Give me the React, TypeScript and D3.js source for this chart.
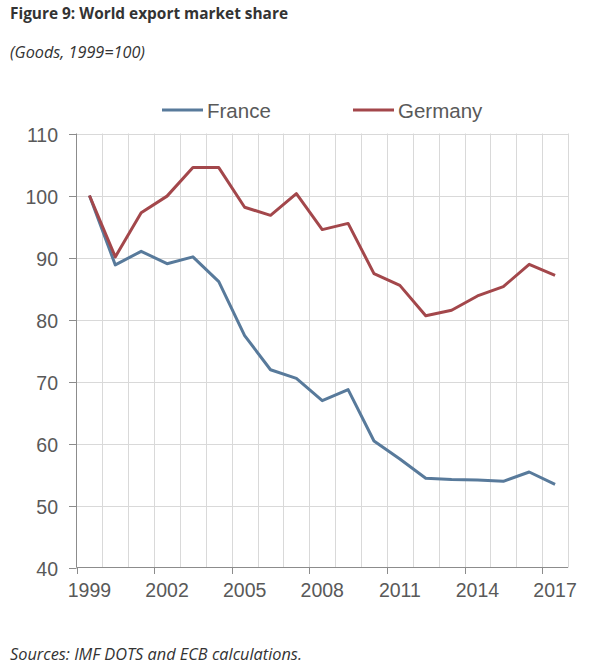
import {useEffect, useRef} from "react";
import * as d3 from "d3";

const years = ["1999", "2000", "2001", "2002", "2003", "2004", "2005", "2006", "2007", "2008",
    "2009", "2010", "2011", "2012", "2013", "2014", "2015", "2016", "2017"];
const france = [100, 88.8, 91.0, 89.0, 90.1, 86.1, 77.4, 71.9, 70.5, 66.9,
    68.7, 60.4, 57.5, 54.4, 54.2, 54.1, 53.9, 55.4, 53.4];
const germany = [100, 90.1, 97.2, 99.9, 104.5, 104.5, 98.1, 96.8, 100.3, 94.5,
    95.5, 87.4, 85.5, 80.6, 81.5, 83.8, 85.3, 88.9, 87.1];
const yTicks = [40, 50, 60, 70, 80, 90, 100, 110];
const xLabels = ["1999", "2002", "2005", "2008", "2011", "2014", "2017"];
const seriesNames = ["France", "Germany"];
const seriesColors = ["#587a9b", "#a3474b"];

const width = 612;
const height = 671;

const App = () => {
    const svgRef = useRef<SVGSVGElement | null>(null);

    useEffect(() => {
        const svg = d3.select(svgRef.current);
        svg.selectAll("*").remove();

        const x = d3.scaleBand<string>().domain(years).range([76.5, 568]).padding(0);
        const y = d3.scaleLinear().domain([40, 110]).range([567.5, 133.5]);
        const cx = (d: string) => (x(d) as number) + x.bandwidth() / 2;

        const grid = "#d9d9d9";
        const axisCol = "#8c8c8c";
        const textCol = "#595959";
        const font = "'Liberation Sans', Arial, sans-serif";

        // horizontal grid
        svg.append("g").selectAll("line")
            .data(yTicks.slice(1))
            .enter().append("line")
            .attr("x1", 76.5).attr("x2", 568)
            .attr("y1", d => Math.round(y(d)) + 0.5).attr("y2", d => Math.round(y(d)) + 0.5)
            .attr("stroke", grid).attr("stroke-width", 1);

        // vertical grid at category boundaries
        svg.append("g").selectAll("line")
            .data(years.slice(1).concat(["end"]))
            .enter().append("line")
            .attr("x1", (d, i) => Math.round(i === years.length - 1 ? 568 : (x(d) as number)) + 0.5)
            .attr("x2", (d, i) => Math.round(i === years.length - 1 ? 568 : (x(d) as number)) + 0.5)
            .attr("y1", 133.5).attr("y2", 567.5)
            .attr("stroke", grid).attr("stroke-width", 1);

        // axes
        svg.append("line")
            .attr("x1", 76.5).attr("x2", 76.5).attr("y1", 133.5).attr("y2", 567.5)
            .attr("stroke", axisCol);
        svg.append("line")
            .attr("x1", 76.5).attr("x2", 568).attr("y1", 567.5).attr("y2", 567.5)
            .attr("stroke", axisCol);

        // y ticks + labels
        const yg = svg.append("g");
        yTicks.forEach(t => {
            const yy = Math.round(y(t)) + 0.5;
            yg.append("line").attr("x1", 69).attr("x2", 76.5).attr("y1", yy).attr("y2", yy)
                .attr("stroke", axisCol);
            yg.append("text").attr("x", 58).attr("y", yy).attr("dy", "0.36em")
                .attr("text-anchor", "end").attr("font-family", font).attr("font-size", 19.5)
                .attr("fill", textCol).text(t);
        });

        // x ticks + labels
        const xg = svg.append("g");
        xLabels.forEach(l => {
            const xx = Math.round(x(l) as number) + 0.5;
            xg.append("line").attr("x1", xx).attr("x2", xx).attr("y1", 567.5).attr("y2", 574)
                .attr("stroke", axisCol);
            xg.append("text").attr("x", cx(l)).attr("y", 597)
                .attr("text-anchor", "middle").attr("font-family", font).attr("font-size", 19.5)
                .attr("fill", textCol).text(l);
        });

        // lines
        const line = d3.line<number>()
            .x((_, i) => cx(years[i]))
            .y(d => y(d));
        [france, germany].forEach((s, i) => {
            svg.append("path")
                .datum(s)
                .attr("d", line)
                .attr("fill", "none")
                .attr("stroke", seriesColors[i])
                .attr("stroke-width", 3)
                .attr("stroke-linejoin", "round");
        });

        // legend
        const legendX = [162, 353];
        const legendTextX = [207, 398];
        seriesNames.forEach((n, i) => {
            svg.append("line")
                .attr("x1", legendX[i]).attr("x2", legendX[i] + 41)
                .attr("y1", 110).attr("y2", 110)
                .attr("stroke", seriesColors[i]).attr("stroke-width", 3);
            svg.append("text")
                .attr("x", legendTextX[i]).attr("y", 117.5)
                .attr("font-family", font).attr("font-size", 20.5)
                .attr("fill", textCol).text(n);
        });

        // titles
        svg.append("text").attr("x", 10).attr("y", 19)
            .attr("font-family", "'Open Sans', sans-serif").attr("font-weight", 700)
            .attr("font-size", 16).attr("fill", "#333333")
            .attr("textLength", 278).attr("lengthAdjust", "spacingAndGlyphs")
            .text("Figure 9: World export market share");
        svg.append("text").attr("x", 10).attr("y", 58)
            .attr("font-family", "'Open Sans', sans-serif").attr("font-style", "italic")
            .attr("font-size", 15.5).attr("fill", "#333333")
            .attr("textLength", 135).attr("lengthAdjust", "spacingAndGlyphs")
            .text("(Goods, 1999=100)");
        svg.append("text").attr("x", 10).attr("y", 660)
            .attr("font-family", "'Open Sans', sans-serif").attr("font-style", "italic")
            .attr("font-size", 16).attr("fill", "#333333")
            .attr("textLength", 292).attr("lengthAdjust", "spacingAndGlyphs")
            .text("Sources: IMF DOTS and ECB calculations.");
    }, []);

    return (
        <svg ref={svgRef} width={width} height={height}
             style={{position: "absolute", left: 0, top: 0, background: "#fff"}}></svg>
    );
};

export default App;
